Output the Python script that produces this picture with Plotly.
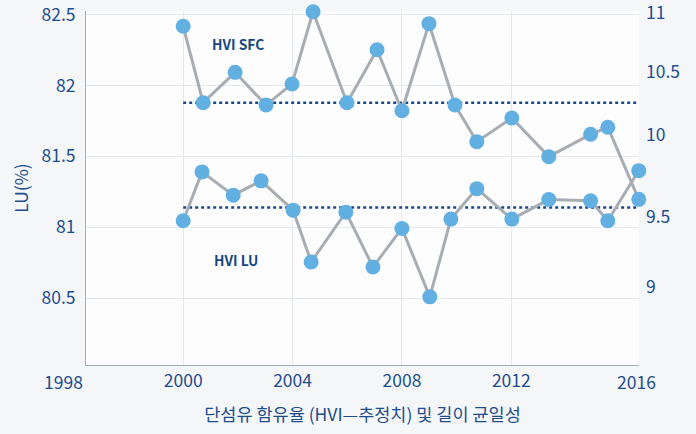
import plotly.graph_objects as go

# ---- data ----
years_lu = [2000.0, 2000.69, 2001.83, 2002.85, 2004.02, 2004.68, 2005.95, 2006.94,
            2008.0, 2009.02, 2009.79, 2010.74, 2012.02, 2013.37, 2014.9, 2015.53, 2016.66]
lu = [81.045, 81.39, 81.226, 81.327, 81.12, 80.754, 81.106, 80.719,
      80.991, 80.508, 81.057, 81.272, 81.057, 81.195, 81.186, 81.045, 81.399]

years_sfc = [2000.0, 2000.73, 2001.9, 2003.03, 2003.98, 2004.75, 2005.99, 2007.09,
             2008.0, 2008.99, 2009.94, 2010.74, 2012.02, 2013.37, 2014.9, 2015.53, 2016.66]
sfc = [10.856, 10.305, 10.524, 10.288, 10.44, 10.961, 10.305, 10.687,
       10.247, 10.875, 10.288, 10.024, 10.195, 9.916, 10.077, 10.128, 9.608]

lu_ref = 81.139
sfc_ref = 10.305

x_tick_vals = [2000, 2004, 2008, 2012]
x_tick_text = ["2000", "2004", "2008", "2012"]
x_edge_labels = ["1998", "2016"]
lu_tick_vals = [80.5, 81, 81.5, 82, 82.5]
lu_tick_text = ["80.5", "81", "81.5", "82", "82.5"]
sfc_tick_text = ["9", "9.5", "10", "10.5", "11"]
sfc_tick_pos = [8.974, 9.479, 10.072, 10.526, 10.95]

series_labels = ["HVI SFC", "HVI LU"]
x_title = "단섬유 함유율 (HVI—추정치) 및 길이 균일성"
y_title = "LU(%)"

# ---- styles ----
FONT = "Noto Sans CJK KR"
TXT = "#1e4d8c"
LINE = "#a7adb3"
DOT = "#62b0e2"
REF = "#1a4a86"
PAPER = "#f4f6f8"

fig = go.Figure()

fig.add_trace(go.Scatter(x=[years_sfc[0], years_sfc[-1]], y=[sfc_ref, sfc_ref], yaxis="y2",
                         mode="lines", line=dict(color=REF, width=2.5, dash="dot"),
                         hoverinfo="skip", showlegend=False))
fig.add_trace(go.Scatter(x=[years_lu[0], years_lu[-1]], y=[lu_ref, lu_ref],
                         mode="lines", line=dict(color=REF, width=2.5, dash="dot"),
                         hoverinfo="skip", showlegend=False))

fig.add_trace(go.Scatter(x=years_lu, y=lu, mode="lines+markers",
                         line=dict(color=LINE, width=3),
                         marker=dict(color=DOT, size=15),
                         cliponaxis=False, showlegend=False, name="HVI LU"))
fig.add_trace(go.Scatter(x=years_sfc, y=sfc, yaxis="y2", mode="lines+markers",
                         line=dict(color=LINE, width=3),
                         marker=dict(color=DOT, size=15),
                         cliponaxis=False, showlegend=False, name="HVI SFC"))

fig.update_layout(
    width=696, height=434,
    margin=dict(l=86, r=57, t=11, b=69, autoexpand=False),
    paper_bgcolor=PAPER,
    plot_bgcolor="#fdfdfd",
    font=dict(family=FONT, color=TXT, size=17.5),
    xaxis=dict(range=[1996.446, 2016.67], tickvals=x_tick_vals, ticktext=x_tick_text,
               showgrid=True, gridcolor="#e6e9ed", gridwidth=1,
               showline=True, linecolor="#a4adb8", linewidth=1,
               ticks="", zeroline=False, automargin=False, ticklabeloverflow="allow",
               title=dict(text=x_title, font=dict(size=17.5, color=TXT), standoff=17)),
    yaxis=dict(range=[80.027, 82.526], tickvals=lu_tick_vals, ticktext=lu_tick_text,
               showgrid=True, gridcolor="#e6e9ed", gridwidth=1,
               showline=True, linecolor="#a4adb8", linewidth=1,
               ticks="", zeroline=False, ticklabelstandoff=6, automargin=False,
               ticklabeloverflow="allow",
               title=dict(text=y_title, font=dict(size=17.5, color=TXT), standoff=8)),
    yaxis2=dict(range=[8.4134, 10.9664], overlaying="y", side="right",
                tickvals=sfc_tick_pos, ticktext=sfc_tick_text,
                showgrid=False, showline=False, ticks="", zeroline=False,
                ticklabelstandoff=6, automargin=False, ticklabeloverflow="allow"),
    annotations=[
        dict(x=2002.0, y=10.726, xref="x", yref="y2", text="<b>" + series_labels[0] + "</b>",
             showarrow=False, font=dict(size=13.8, color="#17467f")),
        dict(x=2001.94, y=80.768, xref="x", yref="y", text="<b>" + series_labels[1] + "</b>",
             showarrow=False, font=dict(size=13.8, color="#17467f")),
        dict(x=-0.041, y=-0.048, xref="paper", yref="paper", text=x_edge_labels[0],
             showarrow=False, xanchor="center", yanchor="middle", font=dict(size=17.5, color=TXT)),
        dict(x=0.9955, y=-0.048, xref="paper", yref="paper", text=x_edge_labels[1],
             showarrow=False, xanchor="center", yanchor="middle", font=dict(size=17.5, color=TXT)),
    ],
)

fig.write_html("out.html",
               config={"displayModeBar": False},
               post_script="document.body.style.margin='0';"
                           "document.body.style.background='" + PAPER + "';")
